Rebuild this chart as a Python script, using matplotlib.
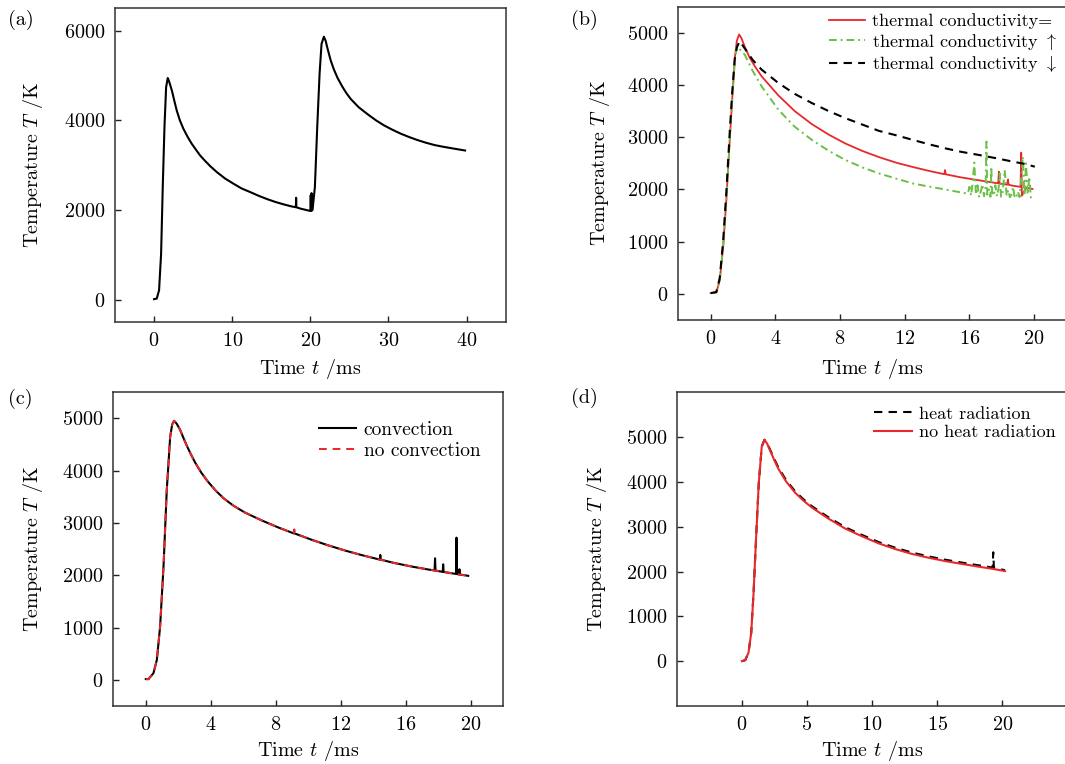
import matplotlib
matplotlib.use("Agg")
import matplotlib.pyplot as plt

plt.rcParams["font.family"] = ["cmr10", "DejaVu Serif"]
plt.rcParams["mathtext.fontset"] = "cm"
plt.rcParams["axes.formatter.use_mathtext"] = True

# (a) two pulses, 0-40 ms
t_a = [0, 0.34, 0.64, 0.9, 1.11, 1.33, 1.54, 1.75, 1.9, 2.1, 2.3, 2.6, 2.9, 3.3, 3.76, 4.3,
       4.83, 5.4, 5.9, 6.5, 7.2, 8.04, 9.1, 10.18, 11.2, 12.32, 13.4, 14.46, 15.5, 16.6,
       17.7, 18.15, 18.18, 18.21, 18.74, 19.5, 20.0, 20.05, 20.1, 20.15, 20.2, 20.28,
       20.58, 20.88, 21.18, 21.43, 21.73, 21.95, 22.16, 22.4, 22.6, 23.0, 23.5, 24.1,
       24.6, 25.15, 26.2, 27.3, 28.4, 29.4, 30.5, 31.6, 32.6, 33.7, 34.8, 35.85, 37.0,
       38.0, 39.0, 39.8]
T_a = [10, 22, 208, 1025, 2510, 3846, 4737, 4945, 4880, 4770, 4650, 4430, 4220, 4000, 3809,
       3630, 3475, 3335, 3215, 3100, 2975, 2844, 2700, 2584, 2480, 2398, 2315, 2243, 2180,
       2124, 2075, 2062, 2272, 2060, 2030, 1998, 1978, 2330, 1990, 2376, 1985, 2000,
       2510, 3846, 5035, 5703, 5866, 5780, 5629, 5470, 5340, 5140, 4940, 4750,
       4610, 4480, 4290, 4140, 4000, 3890, 3790, 3700, 3630, 3560, 3500, 3450, 3410,
       3380, 3350, 3327]

# (b) thermal conductivity
t_b = [0, 0.35, 0.56, 0.77, 0.97, 1.18, 1.33, 1.49, 1.62, 1.76, 1.9, 2.1, 2.4, 2.75, 3.15,
       4.19, 5.2, 6.26, 7.3, 8.33, 9.4, 10.4, 11.5, 12.5, 13.5, 14.45, 14.49, 14.53, 15.5,
       16.6, 17.7, 17.78, 17.82, 17.86, 18.34, 18.38, 18.42, 18.7, 19.16, 19.2, 19.24,
       19.5, 19.9]
T_red = [15, 30, 256, 900, 1795, 2950, 3718, 4500, 4850, 4968, 4900, 4740, 4530, 4350, 4167,
         3800, 3500, 3250, 3050, 2880, 2735, 2620, 2510, 2430, 2355, 2292, 2372, 2290, 2230,
         2175, 2120, 2116, 2340, 2114, 2092, 2190, 2090, 2070, 2050, 2705, 1880,
         2030, 2010]

t_blk = [0, 0.35, 0.56, 0.77, 0.97, 1.18, 1.33, 1.49, 1.62, 1.79, 2.11, 2.6, 3.15, 4.19,
         5.2, 6.26, 7.3, 8.33, 9.4, 10.4, 11.5, 12.5, 13.5, 14.5, 15.5, 16.6, 17.7, 18.7,
         19.4, 20.04]
T_blk = [15, 35, 300, 1000, 1950, 3100, 3850, 4500, 4720, 4840, 4700, 4480, 4295, 4038,
         3830, 3654, 3500, 3365, 3240, 3122, 3035, 2949, 2865, 2788, 2720, 2660, 2595, 2532,
         2490, 2436]

t_grn = [0, 0.35, 0.56, 0.77, 0.97, 1.18, 1.33, 1.49, 1.62, 1.75, 2.11, 2.6, 3.15, 4.19,
         5.2, 6.26, 7.3, 8.33, 9.4, 10.4, 11.5, 12.5, 13.5, 14.5, 15.6,
         15.9, 16.0, 16.1, 16.2, 16.3, 16.4, 16.5, 16.6, 16.7, 16.8, 16.9, 17.0, 17.05,
         17.1, 17.2, 17.3, 17.35, 17.4, 17.5, 17.6, 17.7, 17.8, 17.87, 17.95, 18.05,
         18.18, 18.3, 18.4, 18.5, 18.6, 18.7, 18.8, 18.9, 19.0, 19.1, 19.2, 19.3, 19.4,
         19.5, 19.6, 19.7, 19.8, 19.9]
T_grn = [15, 30, 250, 880, 1780, 2930, 3700, 4450, 4740, 4700, 4580, 4270, 3974, 3526,
         3200, 2949, 2740, 2564, 2420, 2308, 2205, 2115, 2055, 2000, 1936,
         1920, 2050, 1880, 2150, 2513, 1900, 2080, 1850, 1960, 2100, 1870, 2050, 2917,
         1900, 2000, 1860, 2436, 1950, 1880, 2080, 1870, 2020, 2308, 1860, 1950,
         2372, 1880, 1990, 1850, 1900, 2050, 1830, 1870, 1960, 1850, 2200, 2628, 1880,
         2500, 1900, 2244, 1820, 1850]

# (c) convection
t_c = [0, 0.16, 0.47, 0.68, 0.88, 1.09, 1.29, 1.5, 1.62, 1.74, 1.9, 2.1, 2.3, 2.52, 2.75,
       3.03, 3.4, 3.8, 4.3, 4.8, 5.4, 6.1, 7.13, 8.15, 9.1, 9.14, 9.18, 10.2, 11.2, 12.3,
       13.3, 14.4, 14.43, 14.46, 15.3, 16.4, 17.4, 17.77, 17.8, 17.83, 18.27, 18.3, 18.33,
       18.7, 19.09, 19.12, 19.15, 19.27, 19.3, 19.33, 19.84]
T_conv = [15, 13, 127, 382, 1019, 2166, 3631, 4650, 4880, 4955, 4900, 4790, 4640, 4480, 4330,
          4160, 3970, 3800, 3620, 3470, 3330, 3200, 3050, 2915, 2802, 2800, 2798, 2680, 2575, 2470,
          2385, 2300, 2389, 2298, 2235, 2165, 2110, 2092, 2325, 2090, 2066, 2210, 2064,
          2045, 2026, 2720, 2024, 2016, 2115, 2014, 1990]
T_noconv = [15, 13, 127, 382, 1019, 2166, 3631, 4650, 4880, 4955, 4900, 4790, 4640, 4480, 4330,
            4160, 3970, 3800, 3620, 3470, 3330, 3200, 3050, 2915, 2802, 2879, 2798, 2680, 2575, 2470,
            2385, 2300, 2299, 2298, 2235, 2165, 2110, 2092, 2091, 2090, 2066, 2065, 2064,
            2045, 2026, 2025, 2024, 2016, 2015, 2014, 1990]

# (d) heat radiation
t_d = [0, 0.26, 0.51, 0.72, 0.9, 1.1, 1.3, 1.53, 1.74, 1.95, 2.17, 2.5, 2.81, 3.4, 4.09,
       4.7, 5.37, 6.6, 7.93, 9.2, 10.49, 11.8, 13.04, 14.3, 15.6, 16.9, 18.16, 19.25,
       19.3, 19.35, 20.2]
T_rad = [0, 22, 186, 631, 1523, 2786, 3975, 4792, 4941, 4860, 4720, 4505, 4320, 4040, 3790,
         3620, 3460, 3220, 2990, 2820, 2660, 2530, 2425, 2340, 2265, 2200, 2140, 2090,
         2430, 2085, 2030]
T_norad = [0, 22, 186, 631, 1523, 2786, 3975, 4792, 4941, 4850, 4700, 4480, 4290, 4010, 3760,
           3590, 3430, 3190, 2960, 2790, 2630, 2500, 2395, 2310, 2235, 2170, 2110, 2060,
           2058, 2056, 2010]

RED = "#e8282a"
GREEN = "#6cbf47"
W, H = 1065, 764
FS = 14.5

fig = plt.figure(figsize=(10.65, 7.64), dpi=100)


def make_ax(l, t, r, b):
    ax = fig.add_axes([l / W, 1 - b / H, (r - l) / W, (b - t) / H])
    for s in ax.spines.values():
        s.set_linewidth(1.1)
        s.set_color("#333333")
    ax.tick_params(direction="in", length=4.3, width=1.0, labelsize=FS, pad=7,
                   colors="#222222", labelcolor="black", top=False, right=False)
    return ax


def labels(ax, xl, yl):
    ax.set_xlabel(r"Time $t$ /ms", fontsize=FS)
    ax.set_ylabel(r"Temperature $T$ /K", fontsize=FS)
    ax.xaxis.set_label_coords(0.5, xl)
    ax.yaxis.set_label_coords(yl, 0.5)


# (a)
ax = make_ax(115, 8.3, 505.7, 322)
ax.plot(t_a, T_a, color="black", lw=1.5)
ax.set_xlim(-5, 45)
ax.set_ylim(-500, 6500)
ax.set_xticks([0, 10, 20, 30, 40])
ax.set_yticks([0, 2000, 4000, 6000])
labels(ax, -0.112, -0.18)

# (b)
ax = make_ax(678.3, 6.7, 1066.5, 320)
ax.plot(t_b, T_red, color=RED, lw=1.3, label="thermal conductivity=")
ax.plot(t_grn, T_grn, color=GREEN, lw=1.4, dashes=(4, 2, 1, 2),
        label=r"thermal conductivity $\uparrow$")
ax.plot(t_blk, T_blk, color="black", lw=1.5, dashes=(4, 3),
        label=r"thermal conductivity $\downarrow$")
ax.set_xlim(-2, 22)
ax.set_ylim(-500, 5500)
ax.set_xticks([0, 4, 8, 12, 16, 20])
ax.set_yticks([0, 1000, 2000, 3000, 4000, 5000])
labels(ax, -0.118, -0.172)
ax.legend(loc="upper left", bbox_to_anchor=(829 / W, 1 - 13 / H),
          bbox_transform=fig.transFigure, frameon=False, fontsize=13,
          handlelength=2.0, handletextpad=0.4, labelspacing=0.15,
          borderpad=0, borderaxespad=0)

# (c)
ax = make_ax(113.3, 392.3, 503.3, 706)
ax.plot(t_c, T_conv, color="black", lw=1.5, label="convection")
ax.plot(t_c, T_noconv, color=RED, lw=1.4, dashes=(4, 3), label="no convection")
ax.set_xlim(-2, 22)
ax.set_ylim(-500, 5500)
ax.set_xticks([0, 4, 8, 12, 16, 20])
ax.set_yticks([0, 1000, 2000, 3000, 4000, 5000])
labels(ax, -0.105, -0.176)
ax.legend(loc="upper left", bbox_to_anchor=(319 / W, 1 - 421 / H),
          bbox_transform=fig.transFigure, frameon=False, fontsize=14,
          handlelength=1.9, handletextpad=0.4, labelspacing=0.15,
          borderpad=0, borderaxespad=0)

# (d)
ax = make_ax(676.7, 392.3, 1067.5, 706)
ax.plot(t_d, T_rad, color="black", lw=1.5, dashes=(4, 3), label="heat radiation")
ax.plot(t_d, T_norad, color=RED, lw=1.5, label="no heat radiation")
ax.set_xlim(-5, 25)
ax.set_ylim(-1000, 6000)
ax.set_xticks([0, 5, 10, 15, 20])
ax.set_yticks([0, 1000, 2000, 3000, 4000, 5000])
labels(ax, -0.105, -0.172)
ax.legend(loc="upper left", bbox_to_anchor=(874 / W, 1 - 406 / H),
          bbox_transform=fig.transFigure, frameon=False, fontsize=13,
          handlelength=2.1, handletextpad=0.4, labelspacing=0.15,
          borderpad=0, borderaxespad=0)

# panel letters
for txt, x, y in [("(a)", 8, 20), ("(b)", 571, 20), ("(c)", 8, 399), ("(d)", 571, 398)]:
    fig.text(x / W, 1 - y / H, txt, fontsize=FS, va="center", ha="left")

fig.savefig("out.png", dpi=100)
